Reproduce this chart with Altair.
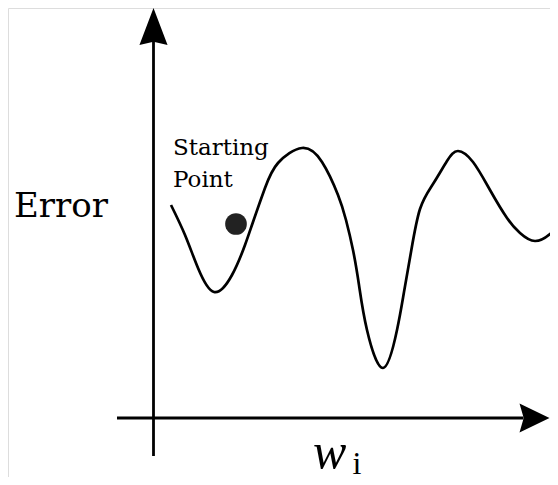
import altair as alt
import pandas as pd

# Error curve (w_i units, error units)
curve_w = [1.75, 3.15, 4.45, 6.05, 7.85, 9.15, 9.95, 11.15, 12.45, 14.85, 16.85,
           18.45, 19.25, 19.95, 20.55, 21.35, 22.95, 24.35, 25.05, 25.75, 26.65,
           27.95, 29.35, 30.45, 31.95, 33.65, 35.35, 36.65, 38.15, 39.65, 40.45]
curve_err = [21.3, 18.3, 15.0, 12.6, 14.3, 17.3, 19.6, 23.0, 25.5, 27.0, 25.6,
             22.3, 19.8, 16.8, 13.3, 8.8, 5.0, 8.8, 12.6, 16.6, 20.9,
             23.4, 25.7, 26.7, 25.6, 22.8, 20.0, 18.5, 17.7, 18.4, 19.3]

# Starting point
start_w = [8.25]
start_err = [19.4]

# Axis lines (start/end) and arrow heads
vaxis_w = [0.0]
vaxis_err = [-3.8]
vaxis_err2 = [39.0]
haxis_w = [-3.65]
haxis_w2 = [37.0]
haxis_err = [0.0]
varrow_w = [0.0]
varrow_err = [39.15]
harrow_w = [38.1]
harrow_err = [0.0]

# Labels
ylabel_text = ["Error"]
ylabel_w = [-13.95]
ylabel_err = [20.1]
note_text = ["Starting", "Point"]
note_w = [1.95, 1.95]
note_err = [26.3, 23.1]
xlabel_text = ["w"]
xlabel_w = [15.95]
xlabel_err = [-5.0]
xsub_text = ["i"]
xsub_w = [19.9]
xsub_err = [-5.6]

W_DOMAIN = [-14.55, 39.65]
E_DOMAIN = [-5.9, 41.0]

xs = alt.Scale(domain=W_DOMAIN, nice=False, zero=False)
ys = alt.Scale(domain=E_DOMAIN, nice=False, zero=False)

def X(field="w"):
    return alt.X(f"{field}:Q", scale=xs, axis=None)

def Y(field="err"):
    return alt.Y(f"{field}:Q", scale=ys, axis=None)

INK = "#000000"

curve = alt.Chart(pd.DataFrame({"w": curve_w, "err": curve_err})).mark_line(
    color=INK, strokeWidth=2.7, interpolate="natural", clip=True
).encode(x=X(), y=Y())

dot = alt.Chart(pd.DataFrame({"w": start_w, "err": start_err})).mark_point(
    filled=True, shape="circle", size=470, color="#222222", opacity=1, strokeWidth=0
).encode(x=X(), y=Y())

vaxis = alt.Chart(pd.DataFrame({"w": vaxis_w, "err": vaxis_err, "err2": vaxis_err2})).mark_rule(
    color=INK, strokeWidth=2.8
).encode(x=X(), y=Y(), y2="err2:Q")

haxis = alt.Chart(pd.DataFrame({"w": haxis_w, "w2": haxis_w2, "err": haxis_err})).mark_rule(
    color=INK, strokeWidth=2.8
).encode(x=X(), x2="w2:Q", y=Y())

varrow = alt.Chart(pd.DataFrame({"w": varrow_w, "err": varrow_err})).mark_point(
    filled=True, shape="M0,-1L0.76,1L0,0.82L-0.76,1Z", size=1369, color=INK, opacity=1, strokeWidth=0
).encode(x=X(), y=Y())

harrow = alt.Chart(pd.DataFrame({"w": harrow_w, "err": harrow_err})).mark_point(
    filled=True, shape="M1,0L-1,0.97L-0.72,0L-1,-0.97Z", size=900, color=INK, opacity=1, strokeWidth=0
).encode(x=X(), y=Y())

ylabel = alt.Chart(pd.DataFrame({"t": ylabel_text, "w": ylabel_w, "err": ylabel_err})).mark_text(
    align="left", baseline="alphabetic", font="DejaVu Serif", fontSize=34, color=INK
).encode(x=X(), y=Y(), text="t:N")

note = alt.Chart(pd.DataFrame({"t": note_text, "w": note_w, "err": note_err})).mark_text(
    align="left", baseline="alphabetic", font="DejaVu Serif", fontSize=23, color=INK
).encode(x=X(), y=Y(), text="t:N")

xlabel = alt.Chart(pd.DataFrame({"t": xlabel_text, "w": xlabel_w, "err": xlabel_err})).mark_text(
    align="left", baseline="alphabetic", font="Liberation Serif", fontSize=50,
    fontStyle="italic", color=INK
).encode(x=X(), y=Y(), text="t:N")

xsub = alt.Chart(pd.DataFrame({"t": xsub_text, "w": xsub_w, "err": xsub_err})).mark_text(
    align="left", baseline="alphabetic", font="Liberation Serif", fontSize=32, color=INK
).encode(x=X(), y=Y(), text="t:N")

chart = alt.layer(
    vaxis, haxis, varrow, harrow, curve, dot, ylabel, note, xlabel, xsub
).properties(
    width=542, height=469, padding=0,
    autosize=alt.AutoSizeParams(type="none"),
).configure_view(stroke=None).configure(background="white")

chart.save("out.html", embed_options={"renderer": "svg", "actions": False})
